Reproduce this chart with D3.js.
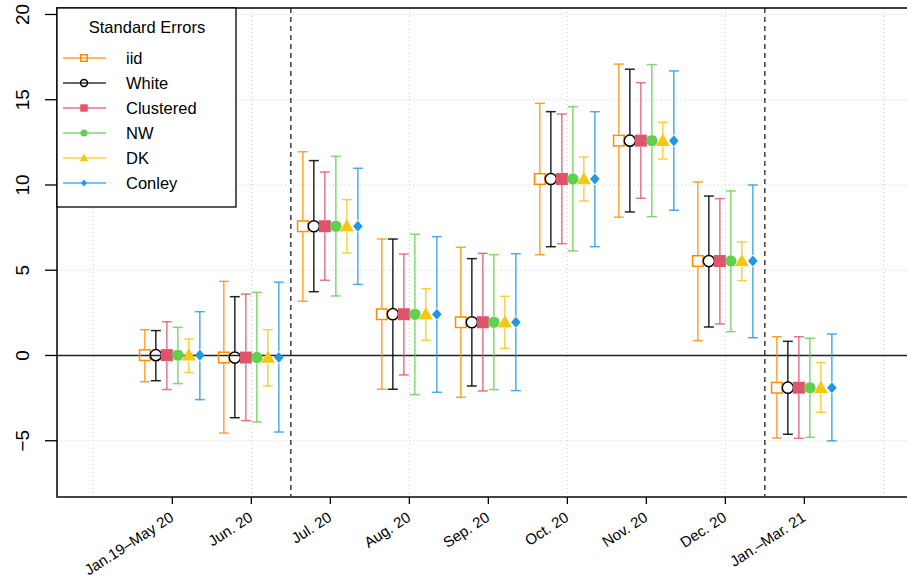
<!DOCTYPE html>
<html>
<head>
<meta charset="utf-8">
<script src="https://cdn.jsdelivr.net/npm/d3@7"></script>
<style>
  html, body { margin: 0; padding: 0; background: #fff; }
  svg { display: block; font-family: "Liberation Sans", Arial, sans-serif; }
</style>
</head>
<body>
<svg id="chart" width="907" height="585"></svg>
<script>
// ---------------- data ----------------
const categories = ["Jan.19\u2013May 20", "Jun. 20", "Jul. 20", "Aug. 20", "Sep. 20",
                    "Oct. 20", "Nov. 20", "Dec. 20", "Jan.\u2013Mar. 21"];
const estimates = [0.02, -0.12, 7.58, 2.42, 1.95, 10.35, 12.6, 5.54, -1.89];

const seriesNames = ["iid", "White", "Clustered", "NW", "DK", "Conley"];

const iidUpper       = [1.51, 4.35, 11.95, 6.83, 6.35, 14.79, 17.09, 10.18, 1.10];
const iidLower       = [-1.54, -4.55, 3.18, -1.98, -2.45, 5.91, 8.11, 0.87, -4.84];
const whiteUpper     = [1.46, 3.45, 11.43, 6.83, 5.68, 14.30, 16.79, 9.35, 0.83];
const whiteLower     = [-1.48, -3.65, 3.74, -1.98, -1.79, 6.38, 8.42, 1.67, -4.62];
const clusteredUpper = [1.98, 3.60, 10.76, 5.95, 5.99, 14.16, 16.00, 9.20, 1.10];
const clusteredLower = [-2.00, -3.82, 4.41, -1.14, -2.08, 6.56, 9.22, 1.85, -4.86];
const nwUpper        = [1.65, 3.70, 11.68, 7.11, 5.91, 14.59, 17.06, 9.65, 1.01];
const nwLower        = [-1.65, -3.90, 3.49, -2.30, -2.00, 6.13, 8.14, 1.40, -4.80];
const dkUpper        = [0.97, 1.51, 9.14, 3.92, 3.47, 11.64, 13.68, 6.66, -0.42];
const dkLower        = [-1.00, -1.79, 6.01, 0.89, 0.42, 9.06, 11.52, 4.39, -3.33];
const conleyUpper    = [2.57, 4.30, 10.98, 6.97, 5.97, 14.30, 16.69, 10.00, 1.26];
const conleyLower    = [-2.59, -4.49, 4.17, -2.16, -2.06, 6.38, 8.52, 1.04, -5.01];

const yTicks = [-5, 0, 5, 10, 15, 20];
const xGrid = [0, 2, 4, 6, 8, 10];
const periodBreaks = [2.5, 8.5];

// ---------------- styles ----------------
const colors = { iid: "#FF8C00", White: "#000000", Clustered: "#DF536B",
                 NW: "#61D04F", DK: "#F5C710", Conley: "#2297E6" };
const uppers = { iid: iidUpper, White: whiteUpper, Clustered: clusteredUpper,
                 NW: nwUpper, DK: dkUpper, Conley: conleyUpper };
const lowers = { iid: iidLower, White: whiteLower, Clustered: clusteredLower,
                 NW: nwLower, DK: dkLower, Conley: conleyLower };

const svg = d3.select("#chart");
const L = 57, R = 919.7, T = 8, B = 497;

const x = d3.scaleLinear().domain([-0.46, 10.46]).range([L, R]);
const y = d3.scaleLinear().domain([-8.3, 20.38]).range([B, T]);
const dodge = d3.scalePoint().domain(seriesNames).range([-27.5, 27.5]);

// grid
const g = svg.append("g");
g.selectAll("line.hg").data(yTicks).join("line")
  .attr("x1", L).attr("x2", R).attr("y1", d => y(d)).attr("y2", d => y(d))
  .attr("stroke", "#cfcfcf").attr("stroke-width", 1).attr("stroke-dasharray", "1,3");
g.selectAll("line.vg").data(xGrid).join("line")
  .attr("x1", d => x(d)).attr("x2", d => x(d)).attr("y1", T).attr("y2", B)
  .attr("stroke", "#cfcfcf").attr("stroke-width", 1).attr("stroke-dasharray", "1,3");

// zero line
svg.append("line").attr("x1", L).attr("x2", R).attr("y1", y(0)).attr("y2", y(0))
  .attr("stroke", "#222").attr("stroke-width", 1.6);

// period breaks
svg.selectAll("line.brk").data(periodBreaks).join("line")
  .attr("x1", d => x(d)).attr("x2", d => x(d)).attr("y1", T).attr("y2", B)
  .attr("stroke", "#222").attr("stroke-width", 1.3).attr("stroke-dasharray", "5,4");

// error bars
const gap = 6, cap = 5;
seriesNames.forEach(s => {
  const col = colors[s];
  const eg = svg.append("g").attr("stroke", col).attr("stroke-width", 1.5)
    .attr("stroke-opacity", s === "White" ? 0.85 : 0.8).attr("fill", "none");
  categories.forEach((c, i) => {
    const cx = x(i + 1) + dodge(s);
    const yu = y(uppers[s][i]), yl = y(lowers[s][i]), ye = y(estimates[i]);
    if (yu < ye - gap) eg.append("line").attr("x1", cx).attr("x2", cx).attr("y1", yu).attr("y2", ye - gap);
    if (yl > ye + gap) eg.append("line").attr("x1", cx).attr("x2", cx).attr("y1", ye + gap).attr("y2", yl);
    eg.append("line").attr("x1", cx - cap).attr("x2", cx + cap).attr("y1", yu).attr("y2", yu);
    eg.append("line").attr("x1", cx - cap).attr("x2", cx + cap).attr("y1", yl).attr("y2", yl);
  });
});

// markers
function marker(sel, s, cx, cy, k) {
  const col = colors[s];
  if (s === "iid") {
    const h = 5.3 * k;
    sel.append("rect").attr("x", cx - h).attr("y", cy - h).attr("width", 2 * h).attr("height", 2 * h)
      .attr("fill", "none").attr("stroke", col).attr("stroke-width", 1.5);
  } else if (s === "White") {
    sel.append("circle").attr("cx", cx).attr("cy", cy).attr("r", 5.6 * k)
      .attr("fill", "none").attr("stroke", col).attr("stroke-width", 1.5);
  } else if (s === "Clustered") {
    const h = 6 * k;
    sel.append("rect").attr("x", cx - h).attr("y", cy - h).attr("width", 2 * h).attr("height", 2 * h)
      .attr("fill", col);
  } else if (s === "NW") {
    sel.append("circle").attr("cx", cx).attr("cy", cy).attr("r", 5.7 * k).attr("fill", col);
  } else if (s === "DK") {
    const w = 7 * k, hh = 6.2 * k;
    sel.append("path").attr("d", `M${cx},${cy - hh * 1.15}L${cx + w},${cy + hh * 0.85}L${cx - w},${cy + hh * 0.85}Z`)
      .attr("fill", col);
  } else if (s === "Conley") {
    const h = 4.8 * k;
    sel.append("path").attr("d", `M${cx},${cy - h * 1.15}L${cx + h},${cy}L${cx},${cy + h * 1.15}L${cx - h},${cy}Z`)
      .attr("fill", col);
  }
}
seriesNames.forEach(s => {
  const mg = svg.append("g");
  categories.forEach((c, i) => marker(mg, s, x(i + 1) + dodge(s), y(estimates[i]), 1));
});

// plot box
svg.append("rect").attr("x", L).attr("y", T).attr("width", R - L).attr("height", B - T)
  .attr("fill", "none").attr("stroke", "#000").attr("stroke-width", 1.5);
svg.append("line").attr("x1", L).attr("x2", R).attr("y1", B).attr("y2", B)
  .attr("stroke", "#444").attr("stroke-width", 2);

// y axis
const yAxis = svg.append("g");
yAxis.selectAll("line").data(yTicks).join("line")
  .attr("x1", 45).attr("x2", L).attr("y1", d => y(d)).attr("y2", d => y(d))
  .attr("stroke", "#000").attr("stroke-width", 1.3);
yAxis.selectAll("text").data(yTicks).join("text")
  .attr("transform", d => `translate(29,${y(d)}) rotate(-90)`)
  .attr("text-anchor", "middle").attr("font-size", 19).attr("fill", "#000")
  .text(d => d < 0 ? "\u2212" + Math.abs(d) : d);

// x axis
const xAxis = svg.append("g");
xAxis.selectAll("line").data(categories).join("line")
  .attr("x1", (d, i) => x(i + 1)).attr("x2", (d, i) => x(i + 1)).attr("y1", B).attr("y2", B + 7)
  .attr("stroke", "#000").attr("stroke-width", 1.3);
xAxis.selectAll("text").data(categories).join("text")
  .attr("transform", (d, i) => `translate(${x(i + 1) + 2.5},520) rotate(-33)`)
  .attr("text-anchor", "end").attr("font-size", 15).attr("fill", "#000")
  .text(d => d);

// legend
const lg = svg.append("g");
lg.append("rect").attr("x", L).attr("y", T).attr("width", 179).attr("height", 199)
  .attr("fill", "#fff").attr("stroke", "#000").attr("stroke-width", 1.3);
lg.append("text").attr("x", 147).attr("y", 33).attr("text-anchor", "middle")
  .attr("font-size", 16.5).text("Standard Errors");
seriesNames.forEach((s, i) => {
  const ly = 58 + i * 25;
  lg.append("line").attr("x1", 63).attr("x2", 106).attr("y1", ly).attr("y2", ly)
    .attr("stroke", colors[s]).attr("stroke-width", 1.5).attr("stroke-opacity", 0.8);
  marker(lg, s, 84, ly, 0.62);
  lg.append("text").attr("x", 126).attr("y", ly + 6).attr("font-size", 16.5).text(s);
});
</script>
</body>
</html>
